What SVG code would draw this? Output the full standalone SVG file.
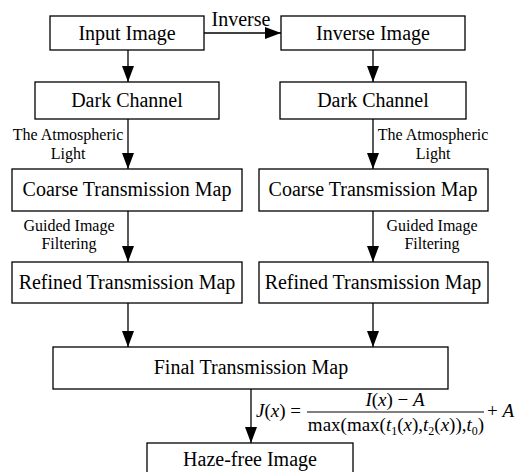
<svg xmlns="http://www.w3.org/2000/svg" width="517" height="472" viewBox="0 0 517 472">
<style>
.box{fill:#fff;stroke:#000;stroke-width:1.3}
.t{font-family:"Liberation Serif","Times New Roman","DejaVu Serif",serif;font-size:20px;fill:#000;text-anchor:middle}
.s{font-family:"Liberation Serif","Times New Roman","DejaVu Serif",serif;font-size:16px;fill:#000;text-anchor:middle}
.m{font-family:"Liberation Serif","Times New Roman","DejaVu Serif",serif;font-size:19px;fill:#000}
.c{stroke:#000;stroke-width:1.3;fill:none;marker-end:url(#ah)}
</style>
<defs>
<marker id="ah" markerWidth="16" markerHeight="12" refX="16" refY="6" viewBox="0 0 16 12" orient="auto" markerUnits="userSpaceOnUse">
<path d="M0,0 L16,6 L0,12 Z" fill="#000"/>
</marker>
</defs>
<rect width="517" height="472" fill="#fff"/>
<g id="connectors">
<line class="c" x1="204" y1="33" x2="281" y2="33"/>
<line class="c" x1="128" y1="50" x2="128" y2="82"/>
<line class="c" x1="373" y1="50" x2="373" y2="82"/>
<line class="c" x1="128" y1="119" x2="128" y2="169"/>
<line class="c" x1="373" y1="119" x2="373" y2="169"/>
<line class="c" x1="128" y1="211" x2="128" y2="262"/>
<line class="c" x1="373" y1="211" x2="373" y2="262"/>
<line class="c" x1="128" y1="303" x2="128" y2="347"/>
<line class="c" x1="373" y1="303" x2="373" y2="347"/>
<line class="c" x1="251" y1="389" x2="251" y2="443"/>
<text class="t" x="241" y="26">Inverse</text>
<text class="s" x="68" y="140">The Atmospheric</text>
<text class="s" x="68" y="159">Light</text>
<text class="s" x="433" y="140">The Atmospheric</text>
<text class="s" x="433" y="159">Light</text>
<text class="s" x="69" y="231">Guided Image</text>
<text class="s" x="69" y="249">Filtering</text>
<text class="s" x="432" y="231">Guided Image</text>
<text class="s" x="432" y="249">Filtering</text>
</g>
<g id="formula">
<text class="m" x="256" y="417"><tspan font-style="italic">J</tspan>(<tspan font-style="italic">x</tspan>) =</text>
<line x1="307" y1="412" x2="484" y2="412" stroke="#000" stroke-width="1"/>
<text class="m" x="395" y="406" text-anchor="middle"><tspan font-style="italic">I</tspan>(<tspan font-style="italic">x</tspan>) − <tspan font-style="italic">A</tspan></text>
<text class="m" x="396" y="431" text-anchor="middle">max(max(<tspan font-style="italic">t</tspan><tspan font-size="12" dy="4">1</tspan><tspan dy="-4">(</tspan><tspan font-style="italic">x</tspan>),<tspan font-style="italic">t</tspan><tspan font-size="12" dy="4">2</tspan><tspan dy="-4">(</tspan><tspan font-style="italic">x</tspan>)),<tspan font-style="italic">t</tspan><tspan font-size="12" dy="4">0</tspan><tspan dy="-4">)</tspan></text>
<text class="m" x="487" y="417">+ <tspan font-style="italic">A</tspan></text>
</g>
<g id="input"><rect class="box" x="50" y="16" width="154" height="34"/><text class="t" x="127" y="40">Input Image</text></g>
<g id="inverse"><rect class="box" x="281" y="16" width="184" height="34"/><text class="t" x="373" y="40">Inverse Image</text></g>
<g id="dark1"><rect class="box" x="35" y="82" width="184" height="37"/><text class="t" x="127" y="107">Dark Channel</text></g>
<g id="dark2"><rect class="box" x="280" y="82" width="186" height="37"/><text class="t" x="373" y="107">Dark Channel</text></g>
<g id="coarse1"><rect class="box" x="12" y="169" width="230" height="42"/><text class="t" x="127" y="196">Coarse Transmission Map</text></g>
<g id="coarse2"><rect class="box" x="259" y="169" width="229" height="42"/><text class="t" x="373" y="196">Coarse Transmission Map</text></g>
<g id="refined1"><rect class="box" x="12" y="262" width="230" height="41"/><text class="t" x="127" y="289">Refined Transmission Map</text></g>
<g id="refined2"><rect class="box" x="259" y="262" width="229" height="41"/><text class="t" x="373" y="289">Refined Transmission Map</text></g>
<g id="final"><rect class="box" x="53" y="347" width="395" height="42"/><text class="t" x="251" y="374">Final Transmission Map</text></g>
<g id="haze"><rect class="box" x="147" y="443" width="206" height="45"/><text class="t" x="250" y="466">Haze-free Image</text></g>
</svg>
